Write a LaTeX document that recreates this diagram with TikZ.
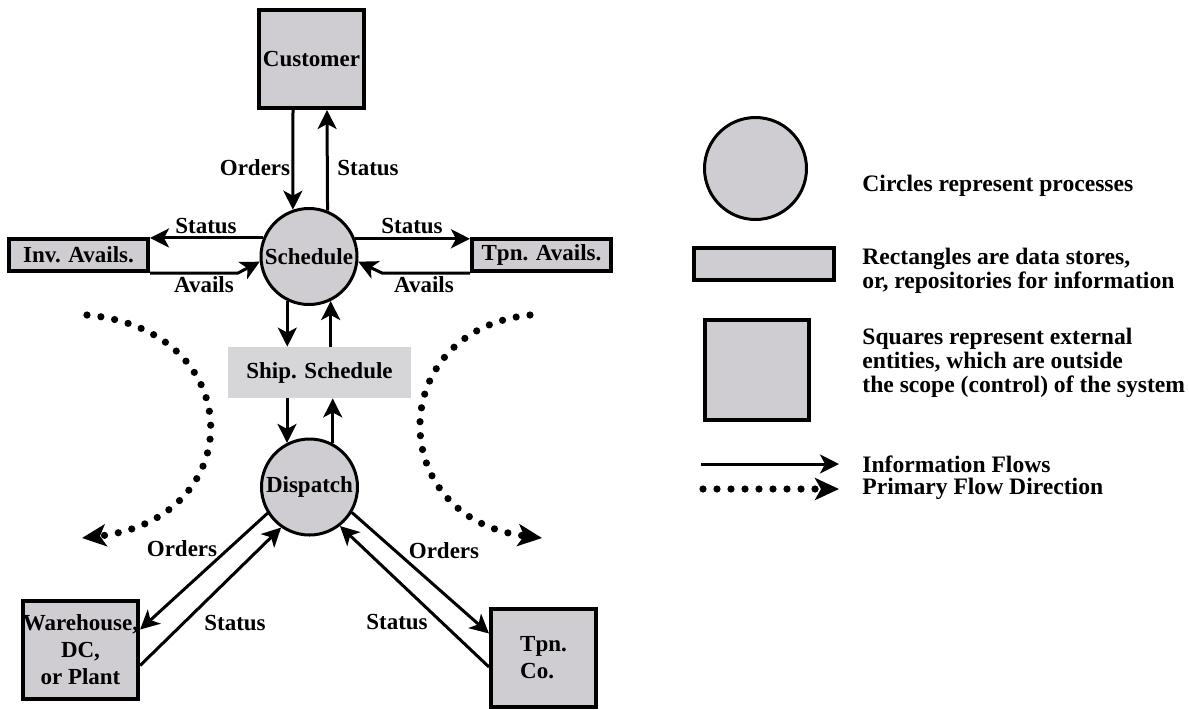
\documentclass[tikz,border=0pt]{standalone}
\usepackage{fontspec}
\setmainfont{Liberation Serif}
\usetikzlibrary{arrows.meta,calc}
\definecolor{boxgray}{RGB}{207,205,210}
\definecolor{shipgray}{RGB}{214,213,216}
\tikzset{every node/.style={font=\bfseries\fontsize{11.5}{13.5}\selectfont},
         >={Stealth[length=9.5pt,width=9.5pt,inset=2.5pt]}}

\begin{document}
\begin{tikzpicture}[x=0.5pt,y=-0.5pt,
	proc/.style={circle,draw,line width=1.5pt,fill=boxgray,inner sep=0pt,minimum size=48pt},
	store/.style={rectangle,draw,line width=2pt,fill=boxgray,inner sep=0pt,
				minimum width=69.5pt,minimum height=16pt},
	ext/.style={rectangle,draw,line width=2pt,fill=boxgray,inner sep=0pt,
				minimum width=52.5pt,minimum height=49pt,align=center},
	flow/.style={->,line width=1.5pt},
	prim/.style={-{Stealth[length=12pt,width=11pt,inset=3pt]},line width=3.6pt,
				line cap=round,dash pattern=on 0pt off 7pt},
	lbl/.style={inner sep=0pt},
	legend/.style={anchor=west,align=left,inner sep=0pt,
				font=\bfseries\fontsize{11.8}{12}\selectfont}]

	\useasboundingbox (0,0) rectangle (1189,709);

	\node[ext] (cust) at (311.5,59) {Customer};
	\node[proc] (sched) at (309,256.5) {Schedule};
	\node[store] (inv) at (78.5,255) {Inv. Avails.};
	\node[store] (tpnav) at (541.5,255) {Tpn. Avails.};
	\node[fill=shipgray,minimum width=91.5pt,minimum height=25.5pt,inner sep=0pt] (ship) at (319.5,372.5) {Ship. Schedule};
	\node[proc] (disp) at (309.5,487) {Dispatch};
	\node[ext] (wh) at (80.5,649.5) {Warehouse,\\DC,\\or Plant};
	\node[ext,align=left] (tpnco) at (543.5,657.5) {Tpn.\\Co.};

	\draw[flow] ([xshift=-9.25pt]cust.south) -- (sched.109.5);
	\draw[flow] (sched.68) -- ([xshift=7.75pt]cust.south);
	\draw[flow] (sched.158.6) -- (sched.158.6 -| inv.east);
	\draw[flow] (inv.south east) -- ([xshift=44pt]inv.south east) -- (sched.186);
	\draw[flow] (sched.21.4) -- (sched.21.4 -| tpnav.west);
	\draw[flow] (tpnav.south west) -- ([xshift=-44pt]tpnav.south west) -- (sched.-6);
	\draw[flow] (sched.244) -- (sched.244 |- ship.north);
	\draw[flow] (sched.296.6 |- ship.north) -- (sched.296.6);
	\draw[flow] (disp.117.3 |- ship.south) -- (disp.117.3);
	\draw[flow] (disp.62.7) -- (disp.62.7 |- ship.south);
	\draw[flow] (disp.212) -- ([yshift=10pt]wh.east);
	\draw[flow] ([yshift=-8pt]wh.east) -- (disp.235);
	\draw[flow] (disp.-31) -- ([yshift=12pt]tpnco.west);
	\draw[flow] ([yshift=-4.75pt]tpnco.west) -- (disp.-52);

	\node[lbl] (ordtop) at (255,168) {Orders};
	\node[lbl] (sttop) at (368,168) {Status};
	\node[lbl] (stinv) at (206,226) {Status};
	\node[lbl] (avinv) at (204,285) {Avails};
	\node[lbl] (sttpn) at (412,226) {Status};
	\node[lbl] (avtpn) at (424,285) {Avails};
	\node[lbl] (ordwh) at (182,549) {Orders};
	\node[lbl] (stwh) at (235,623) {Status};
	\node[lbl] (ordco) at (444,551) {Orders};
	\node[lbl] (stco) at (397,622) {Status};

	\coordinate (lt0) at (87,315);
	\coordinate (lt1) at (82,538);
	\coordinate (rt0) at (530,315);
	\coordinate (rt1) at (542,538);
	\draw[prim] (lt0) .. controls (250,330) and (250,519) .. (lt1);
	\draw[prim] (rt0) .. controls (384,330) and (384,519) .. (rt1);

	\node[proc,minimum size=51pt] (lgcirc) at (755.5,168.5) {};
	\node[store,minimum width=70pt] (lgrect) at (764,264) {};
	\node[ext,minimum width=52pt,minimum height=50pt] (lgsq) at (757,370) {};
	\coordinate (fa) at (701,464);
	\coordinate (fb) at (839,464);
	\coordinate (pa) at (703,489);
	\coordinate (pb) at (839,489);
	\draw[flow] (fa) -- (fb);
	\draw[prim] (pa) -- (pb);

	\node[legend] (txcirc) at (862,186) {Circles represent processes};
	\node[legend] (txrect) at (862,270.5) {Rectangles are data stores,\\or, repositories for information};
	\node[legend] (txsq) at (862,363) {Squares represent external\\entities, which are outside\\the scope (control) of the system};
	\node[legend] (txflow) at (862,464) {Information Flows};
	\node[legend] (txprim) at (862,489) {Primary Flow Direction};
\end{tikzpicture}
\end{document}
